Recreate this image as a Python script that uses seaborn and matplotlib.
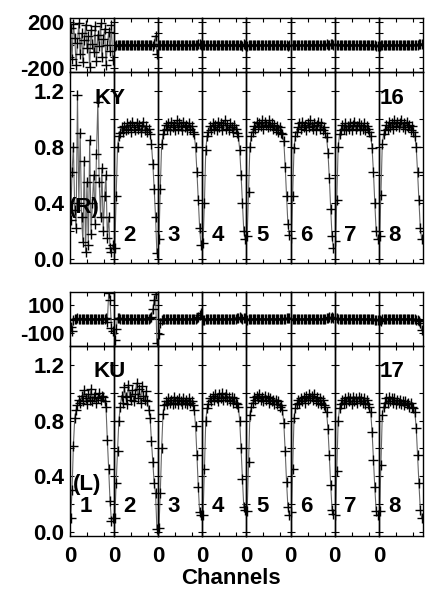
import matplotlib
matplotlib.use("Agg")
import matplotlib.pyplot as plt
import seaborn as sns

sns.set_theme(style="ticks")
plt.rcParams['font.family'] = ['Liberation Sans', 'DejaVu Sans']
plt.rcParams['font.weight'] = 'bold'
plt.rcParams['axes.unicode_minus'] = False
plt.rcParams['text.color'] = 'black'

# channel numbers inside each IF
CHANNELS = list(range(2, 128, 4))
IF_LABELS = ['1', '2', '3', '4', '5', '6', '7', '8']

# antenna KY (16), polarisation R
KY_AMP = [
    [0.28, 0.62, 0.80, 0.35, 0.22, 1.17, 0.40, 0.90, 0.30, 0.12, 0.70, 0.05, 0.55, 0.10, 0.85, 0.18,
     0.40, 0.60, 0.25, 0.75, 1.12, 0.55, 0.30, 0.65, 0.20, 0.45, 0.60, 0.15, 0.30, 0.08, 0.05, 0.10],
    [0.08, 0.45, 0.80, 0.88, 0.90, 0.94, 0.91, 0.95, 0.92, 0.97, 0.93, 0.96, 0.91, 0.98, 0.94, 0.92,
     0.97, 0.93, 0.96, 0.91, 0.95, 0.98, 0.92, 0.95, 0.91, 0.93, 0.89, 0.82, 0.68, 0.50, 0.30, 0.04],
    [0.14, 0.50, 0.82, 0.89, 0.92, 0.96, 0.93, 0.97, 0.92, 0.98, 0.94, 0.96, 0.92, 0.99, 0.93, 0.97,
     0.95, 0.92, 0.98, 0.94, 0.96, 0.92, 0.97, 0.93, 0.95, 0.91, 0.89, 0.80, 0.62, 0.42, 0.22, 0.10],
    [0.11, 0.40, 0.78, 0.88, 0.91, 0.95, 0.92, 0.97, 0.93, 0.96, 0.92, 0.98, 0.94, 0.97, 0.92, 0.96,
     0.99, 0.93, 0.96, 0.92, 0.97, 0.94, 0.91, 0.96, 0.93, 0.90, 0.88, 0.78, 0.60, 0.40, 0.20, 0.14],
    [0.16, 0.48, 0.80, 0.88, 0.91, 0.95, 0.93, 0.98, 0.94, 0.97, 0.95, 0.99, 0.93, 0.98, 0.96, 0.94,
     0.99, 0.95, 0.97, 0.93, 0.96, 0.92, 0.95, 0.91, 0.94, 0.90, 0.89, 0.84, 0.66, 0.45, 0.25, 0.17],
    [0.15, 0.45, 0.79, 0.88, 0.91, 0.94, 0.97, 0.93, 0.98, 0.94, 0.96, 0.92, 0.97, 0.94, 0.99, 0.95,
     0.93, 0.97, 0.92, 0.96, 0.98, 0.93, 0.97, 0.92, 0.94, 0.90, 0.87, 0.76, 0.58, 0.36, 0.16, 0.08],
    [0.13, 0.42, 0.80, 0.89, 0.92, 0.96, 0.93, 0.97, 0.92, 0.95, 0.93, 0.97, 0.92, 0.96, 0.98, 0.93,
     0.95, 0.97, 0.92, 0.96, 0.93, 0.97, 0.92, 0.95, 0.93, 0.91, 0.88, 0.79, 0.62, 0.40, 0.20, 0.14],
    [0.16, 0.46, 0.82, 0.89, 0.92, 0.96, 0.93, 0.98, 0.94, 0.97, 0.93, 0.99, 0.95, 0.98, 0.94, 0.97,
     0.99, 0.94, 0.97, 0.93, 0.98, 0.94, 0.96, 0.92, 0.95, 0.91, 0.88, 0.80, 0.62, 0.42, 0.22, 0.14],
]
KY_PHASE = [
    [150, -120, 180, 60, -170, 20, 190, -80, 100, -150, 40, 175, -30, 80, -190, 130,
     10, -60, 160, -140, 90, -10, 185, -100, 50, 140, -170, 0, 110, -50, 170, -130],
    [-8, 4, -2, 3, -1, 2, 0, -3, 2, 1, -2, 3, 0, -1, 2, -3, 1, 0, 3, -2, 1, 2, -1, 0, 3, -2, 1, 4, -6, 12, 80, -75],
    [-4, 2, 0, -2, 3, 1, -1, 2, 0, -3, 1, 2, -2, 0, 3, -1, 2, 0, -2, 1, 3, -1, 0, 2, -3, 1, 0, 2, -3, 5, 8, 4],
    [3, -2, 1, 0, 2, -3, 1, -1, 2, 0, -2, 3, 1, -1, 0, 2, -2, 1, 3, -1, 0, 2, -3, 1, 0, -2, 2, 1, -4, -8, 6, 3],
    [-6, 1, 2, -1, 0, 3, -2, 1, 0, 2, -1, -3, 2, 0, 1, -2, 3, 0, -1, 2, 1, -2, 0, 3, -1, 2, 0, -2, 1, 4, -5, 2],
    [2, -1, 0, 3, -2, 1, 2, -1, 0, -3, 2, 1, 0, -2, 3, 1, -1, 0, 2, -2, 1, 3, 0, -1, 2, 4, 6, 3, -2, 8, 10, -4],
    [6, 3, -1, 0, 2, -2, 1, 0, 3, -1, -2, 1, 2, 0, -3, 1, 0, 2, -1, 1, -2, 0, 3, -1, 1, 0, -2, 2, 1, -3, -7, -5],
    [-8, -3, 1, 2, -1, 0, 3, -2, 1, 0, 2, -1, -3, 1, 2, 0, -2, 1, 3, 0, -1, 2, 0, -2, 1, 3, -1, 2, 4, 7, 10, 12],
]

# antenna KU (17), polarisation L
KU_AMP = [
    [0.10, 0.30, 0.62, 0.82, 0.88, 0.91, 0.95, 0.93, 0.98, 0.94, 1.02, 0.96, 0.92, 0.99, 0.95, 1.03,
     0.94, 0.97, 0.99, 0.93, 0.96, 1.00, 0.95, 0.98, 0.97, 0.94, 0.90, 0.66, 0.45, 0.22, 0.08, 0.10],
    [0.10, 0.35, 0.58, 0.80, 0.90, 0.98, 0.93, 1.04, 0.97, 0.92, 1.06, 0.98, 0.95, 1.02, 0.94, 0.99,
     1.07, 0.96, 1.03, 0.93, 1.05, 0.98, 0.95, 1.01, 0.94, 0.88, 0.82, 0.65, 0.50, 0.35, 0.28, 0.02],
    [0.03, 0.28, 0.60, 0.85, 0.91, 0.94, 0.92, 0.96, 0.93, 0.95, 0.92, 0.97, 0.93, 0.95, 0.92, 0.96,
     0.94, 0.92, 0.96, 0.93, 0.95, 0.92, 0.96, 0.93, 0.94, 0.91, 0.88, 0.76, 0.55, 0.32, 0.14, 0.12],
    [0.12, 0.45, 0.80, 0.89, 0.92, 0.96, 0.94, 0.98, 0.95, 0.99, 0.96, 0.94, 0.99, 0.96, 1.00, 0.95,
     0.97, 0.99, 0.95, 0.97, 0.94, 0.97, 0.93, 0.96, 0.93, 0.92, 0.90, 0.80, 0.60, 0.38, 0.18, 0.16],
    [0.15, 0.50, 0.84, 0.90, 0.93, 0.97, 0.95, 0.98, 0.96, 0.99, 0.95, 0.97, 0.94, 0.98, 0.95, 0.97,
     0.93, 0.96, 0.94, 0.95, 0.92, 0.95, 0.92, 0.94, 0.90, 0.91, 0.88, 0.78, 0.58, 0.36, 0.18, 0.12],
    [0.14, 0.45, 0.82, 0.89, 0.92, 0.95, 0.93, 0.96, 0.94, 0.97, 0.93, 0.98, 0.95, 0.99, 0.96, 0.98,
     0.95, 0.99, 0.94, 0.97, 0.93, 0.96, 0.92, 0.95, 0.91, 0.90, 0.86, 0.74, 0.55, 0.34, 0.16, 0.13],
    [0.12, 0.44, 0.80, 0.89, 0.92, 0.95, 0.93, 0.96, 0.93, 0.97, 0.94, 0.96, 0.92, 0.97, 0.94, 0.96,
     0.93, 0.97, 0.94, 0.96, 0.93, 0.96, 0.92, 0.95, 0.92, 0.90, 0.86, 0.72, 0.52, 0.32, 0.15, 0.12],
    [0.15, 0.48, 0.84, 0.90, 0.93, 0.96, 0.93, 0.97, 0.94, 0.96, 0.93, 0.96, 0.92, 0.95, 0.93, 0.95,
     0.92, 0.94, 0.91, 0.94, 0.92, 0.93, 0.90, 0.93, 0.90, 0.89, 0.86, 0.75, 0.55, 0.35, 0.16, 0.10],
]
KU_PHASE = [
    [-60, -85, -10, 3, -2, 4, 0, -3, 2, 1, -2, 3, 0, -1, 2, -3, 1, 0, 3, -2, 1, 2, -1, 0, 3, -2, 5, -20, 190, 140, -65, -90],
    [-150, -70, 10, 4, -2, 3, 0, -3, 2, 1, -2, 3, 0, -1, 2, -3, 1, 0, 3, -2, 1, 2, -1, 0, 3, -2, 4, 15, 70, 140, 185, -175],
    [-110, -30, -5, 3, -2, 1, 0, 2, -1, 3, 0, -2, 1, 2, -3, 0, 1, -1, 2, 0, -2, 3, 1, -1, 0, 2, -2, 1, 5, 12, 30, 40],
    [-10, -4, 2, 0, -1, 3, 1, -2, 0, 2, -1, 1, 3, -2, 0, 1, 2, -1, 0, 3, -2, 1, 0, 2, -1, 4, 8, 12, 6, 2, 5, 10],
    [-6, -2, 1, 3, 0, -1, 2, 1, -2, 0, 3, 1, -1, 2, 0, -2, 1, 3, 0, -1, 2, 0, -2, 1, 3, 0, 2, -1, 1, 4, 8, 6],
    [-4, 0, 2, -1, 1, 3, 0, -2, 1, 2, -1, 0, 3, 1, -2, 0, 2, 1, -1, 3, 0, -2, 1, 2, 0, 3, 5, 8, 12, 10, 15, 6],
    [10, 4, 1, 0, 2, -1, 3, 1, 0, -2, 1, 2, 0, -1, 3, 1, -2, 0, 2, 1, -1, 0, 2, -2, 1, 0, -3, -1, 2, -4, -8, -6],
    [-8, -12, -3, 1, 0, 2, -1, 1, 3, 0, -2, 1, 2, 0, -1, 3, 1, -2, 0, 2, -1, 1, 0, -2, 2, 0, -3, -5, -8, -15, -30, -80],
]

W, H = 435, 592
fig = plt.figure(figsize=(W / 100, H / 100), dpi=100)

LEFT, RIGHT = 70, 423
IFW = (RIGHT - LEFT) / 8

groups = [
    dict(name='KY', num='16', pol='(R)', amp=KY_AMP, phase=KY_PHASE,
         top=18, mid=72, bot=263, plim=232, pticks=[-200, -100, 0, 100, 200],
         plabels=['-200', '', '', '', '200'], first_label=False, xlab=False,
         lab_y=0.17, pol_y=0.37, pol_x=42),
    dict(name='KU', num='17', pol='(L)', amp=KU_AMP, phase=KU_PHASE,
         top=292, mid=346, bot=536, plim=196, pticks=[-100, 0, 100],
         plabels=['-100', '', '100'], first_label=True, xlab=True,
         lab_y=0.18, pol_y=0.34, pol_x=50),
]

line_kws = dict(color='#666666', linewidth=0.8, marker='+', markersize=6.5,
                markeredgecolor='#000000', markeredgewidth=1.0,
                estimator=None, errorbar=None, sort=False)
tick_kws = dict(direction='in', top=True, right=True, length=3, width=0.8,
                labelsize=16, colors='black')


def box(x0, ytop, ybot):
    return [x0 / W, 1 - ybot / H, IFW / W, (ybot - ytop) / H]


for g in groups:
    for i in range(8):
        x0 = LEFT + i * IFW
        axp = fig.add_axes(box(x0, g['top'], g['mid']))
        axa = fig.add_axes(box(x0, g['mid'], g['bot']))
        for ax in (axp, axa):
            ax.set_facecolor('none')
            for s in ax.spines.values():
                s.set_linewidth(1.0)
                s.set_color('black')

        sns.lineplot(x=CHANNELS, y=g['phase'][i], ax=axp, **line_kws)
        sns.lineplot(x=CHANNELS, y=g['amp'][i], ax=axa, **line_kws)

        for ax in (axp, axa):
            ax.set_xlim(0, 130)
            ax.set_xticks([0, 50, 100])
            ax.tick_params(axis='both', **tick_kws)
            ax.tick_params(axis='y', pad=4)
            ax.tick_params(axis='x', pad=7)
            ax.set_xlabel('')
            ax.set_ylabel('')

        axp.set_ylim(-g['plim'], g['plim'])
        axp.set_yticks(g['pticks'])
        axp.set_yticklabels(g['plabels'])
        axa.set_ylim(-0.03, 1.337)
        axa.set_yticks([0.0, 0.2, 0.4, 0.6, 0.8, 1.0, 1.2])
        axa.set_yticklabels(['0.0', '', '0.4', '', '0.8', '', '1.2'])

        if i > 0:
            axp.tick_params(labelleft=False)
            axa.tick_params(labelleft=False)
        axp.tick_params(labelbottom=False)
        if g['xlab']:
            axa.set_xticklabels(['0', '', ''])
        else:
            axa.tick_params(labelbottom=False)

        for lab in axp.get_yticklabels() + axa.get_yticklabels() + axa.get_xticklabels():
            lab.set_fontweight('bold')

        txt = dict(fontsize=16, fontweight='bold', ha='center', va='center', color='black')
        if i > 0 or g['first_label']:
            axa.text(46, g['lab_y'], IF_LABELS[i], **txt)
        if i == 0:
            axa.text(g['pol_x'], g['pol_y'], g['pol'], **txt)
            axa.text(118, 1.15, g['name'], **txt)
        if i == 7:
            axa.text(38, 1.15, g['num'], **txt)

fig.text(231 / W, 1 - 578 / H, 'Channels', fontsize=16, fontweight='bold',
         ha='center', va='center', color='black')

fig.savefig('out.png', dpi=100)
